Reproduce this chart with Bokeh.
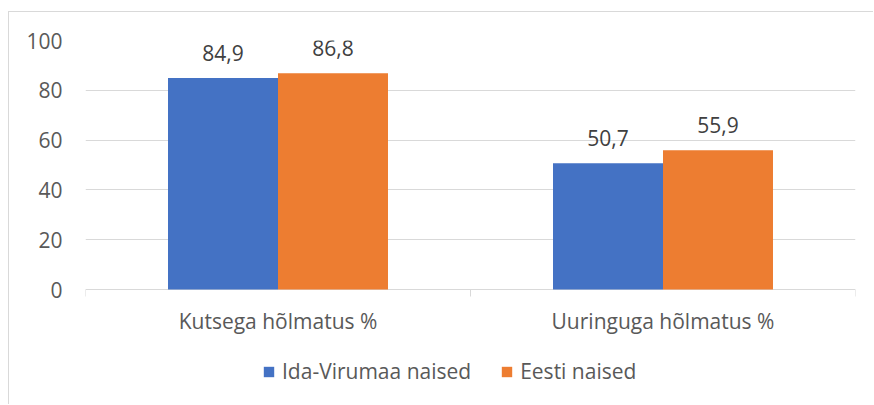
from bokeh.plotting import figure
from bokeh.models import (Range1d, LinearAxis, FixedTicker, Legend, LegendItem,
                          ColumnDataSource)
from bokeh.core.properties import value
from bokeh.embed import file_html
from bokeh.resources import INLINE

categories = ["Kutsega hõlmatus %", "Uuringuga hõlmatus %"]
series_names = ["Ida-Virumaa naised", "Eesti naised"]
ida_virumaa = [84.9, 50.7]
eesti = [86.8, 55.9]
y_ticks = [0, 20, 40, 60, 80, 100]

colors = ["#4472C4", "#ED7D31"]
FONT = "Open Sans"
bar_w = 0.2857
px_per_unit = 2.49          # plot height scale (layout only)
y_bottom = -116 / px_per_unit  # room below the baseline for labels and legend

p = figure(width=865, height=393, output_backend="svg", toolbar_location=None,
           x_range=Range1d(0, len(categories)), y_range=Range1d(y_bottom, 100),
           x_axis_location=None, y_axis_location=None,
           min_border_left=76, min_border_right=19, min_border_top=28,
           min_border_bottom=0)
p.outline_line_color = None
p.styles = {"margin-left": "8px", "margin-top": "11px",
            "border-left": "1px solid #d9d9d9", "border-top": "1px solid #d9d9d9"}

renderers = []
for k, (vals, col) in enumerate(zip([ida_virumaa, eesti], colors)):
    offset = (k - 0.5) * bar_w
    xs = [i + 0.5 + offset for i in range(len(categories))]
    src = ColumnDataSource(dict(x=xs, top=vals,
                                lab=[f"{v:.1f}".replace(".", ",") for v in vals]))
    r = p.vbar(x="x", top="top", width=bar_w, source=src, fill_color=col,
               line_color=None)
    renderers.append(r)
    p.text(x="x", y="top", text="lab", source=src, text_align="center",
           text_baseline="bottom", y_offset=-17, text_color="#404040",
           text_font=value(FONT), text_font_size="21px")

# y axis
yax = LinearAxis(ticker=FixedTicker(ticks=y_ticks))
yax.axis_line_color = None
yax.major_tick_line_color = None
yax.minor_tick_line_color = None
yax.major_label_standoff = 17
yax.major_label_text_color = "#595959"
yax.major_label_text_font = FONT
yax.major_label_text_font_size = "21px"
p.add_layout(yax, "left")

p.xgrid.visible = False
p.ygrid.grid_line_color = "#d9d9d9"
p.ygrid.ticker = FixedTicker(ticks=y_ticks)

# category axis: boundary tick marks and labels
bounds = list(range(len(categories) + 1))
p.segment(x0=bounds, x1=bounds, y0=[0] * len(bounds), y1=[-7 / px_per_unit] * len(bounds),
          line_color="#d9d9d9", line_width=1)
cat_pos = [i + 0.5 for i in range(len(categories))]
p.text(x=cat_pos, y=[0] * len(cat_pos), text=categories, text_align="center",
       text_baseline="middle", y_offset=31, text_color="#595959",
       text_font=value(FONT), text_font_size="21px")

legend = Legend(items=[LegendItem(label=n, renderers=[r]) for n, r in zip(series_names, renderers)],
                orientation="horizontal", location=(177, 20))
legend.border_line_color = None
legend.background_fill_alpha = 0
legend.padding = 0
legend.margin = 0
legend.spacing = 29
legend.glyph_width = 13
legend.glyph_height = 13
legend.label_standoff = 7
legend.label_text_font = FONT
legend.label_text_font_size = "21px"
legend.label_text_color = "#595959"
p.add_layout(legend, "center")

open("out.html", "w").write(file_html(p, INLINE))
